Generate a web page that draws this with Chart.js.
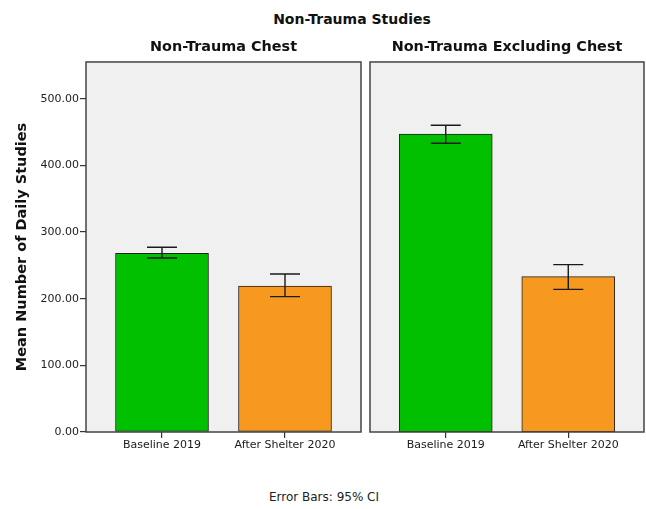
<!DOCTYPE html>
<html>
<head>
<meta charset="utf-8">
<title>Non-Trauma Studies</title>
<script src="https://cdn.jsdelivr.net/npm/chart.js@4.4.1/dist/chart.umd.min.js"></script>
<style>
  body { margin: 0; background: #fff; font-family: "DejaVu Sans", sans-serif; }
  #wrap { position: relative; width: 646px; height: 509px; overflow: hidden; }
  #title { position: absolute; left: 252px; width: 200px; top: 11px; text-align: center;
           font-weight: bold; font-size: 14px; line-height: 16px; color: #111; white-space: nowrap; }
  #foot { position: absolute; left: 224px; width: 200px; top: 490px; text-align: center;
          font-size: 12px; line-height: 14px; color: #222; white-space: nowrap; }
  #c1 { position: absolute; left: 0; top: 0; }
  #c2 { position: absolute; left: 366px; top: 0; }
</style>
</head>
<body>
<div id="wrap">
  <div id="title">Non-Trauma Studies</div>
  <canvas id="c1" width="366" height="470"></canvas>
  <canvas id="c2" width="280" height="470"></canvas>
  <div id="foot">Error Bars: 95% CI</div>
</div>
<script>
const categories = ['Baseline 2019', 'After Shelter 2020'];
const barColors = ['#00c000', '#f7991e'];

// Non-Trauma Chest
const chestMean = [268, 219];
const chestLow = [261, 203];
const chestHigh = [277, 237];

// Non-Trauma Excluding Chest
const otherMean = [447, 233];
const otherLow = [433, 214];
const otherHigh = [460, 251];

const yMax = 555;
const yStep = 100;

Chart.defaults.font.family = 'DejaVu Sans';
Chart.defaults.color = '#222';

// grey panel background + frame
const panel = {
  id: 'panel',
  beforeDraw(chart) {
    const { ctx, chartArea: a } = chart;
    ctx.save();
    ctx.fillStyle = '#f0f0f0';
    ctx.fillRect(a.left, a.top, a.right - a.left, a.bottom - a.top);
    ctx.restore();
  },
  afterDraw(chart) {
    const { ctx, chartArea: a } = chart;
    ctx.save();
    ctx.strokeStyle = '#444';
    ctx.lineWidth = 1.5;
    ctx.strokeRect(a.left, a.top, a.right - a.left, a.bottom - a.top);
    ctx.restore();
  }
};

// 95% CI whiskers
const errorBars = {
  id: 'errorBars',
  afterDatasetsDraw(chart, args, opts) {
    const { ctx, scales: { x, y } } = chart;
    ctx.save();
    ctx.strokeStyle = '#1a1a1a';
    ctx.lineWidth = 1.4;
    opts.low.forEach((lo, i) => {
      const px = x.getPixelForValue(i);
      const top = y.getPixelForValue(opts.high[i]);
      const bot = y.getPixelForValue(lo);
      ctx.beginPath();
      ctx.moveTo(px, top); ctx.lineTo(px, bot);
      ctx.moveTo(px - 15, top); ctx.lineTo(px + 15, top);
      ctx.moveTo(px - 15, bot); ctx.lineTo(px + 15, bot);
      ctx.stroke();
    });
    ctx.restore();
  }
};

function makePanel(id, title, means, low, high, showY, pad) {
  return new Chart(document.getElementById(id), {
    type: 'bar',
    data: {
      datasets: [{
        data: means.map((v, i) => ({ x: i, y: v })),
        backgroundColor: barColors,
        borderColor: '#222',
        borderWidth: 1,
        borderSkipped: false,
        barThickness: 93
      }]
    },
    plugins: [panel, errorBars],
    options: {
      responsive: false,
      animation: false,
      layout: { padding: pad },
      plugins: {
        legend: { display: false },
        tooltip: { enabled: false },
        title: {
          display: true,
          text: title,
          fullSize: false,
          color: '#111',
          font: { size: 14.4, weight: 'bold' },
          padding: { top: 0, bottom: 5.7 }
        },
        errorBars: { low: low, high: high }
      },
      scales: {
        x: {
          type: 'linear',
          offset: false,
          bounds: 'data',
          min: -0.618,
          max: 1.618,
          afterBuildTicks: s => { s.ticks = categories.map((c, i) => ({ value: i })); },
          afterFit: s => { s.height = 30; },
          grid: { offset: false, drawOnChartArea: false, drawTicks: true, tickLength: 6, color: '#333', lineWidth: 1.2 },
          border: { display: false },
          ticks: {
            callback: v => categories[v],
            includeBounds: false,
            maxRotation: 0, minRotation: 0, autoSkip: false,
            padding: 1,
            font: { size: 11 },
            color: '#1a1a1a'
          }
        },
        y: {
          display: showY,
          min: 0,
          max: yMax,
          afterFit: s => { if (showY) s.width = 86; },
          grid: { drawOnChartArea: false, drawTicks: true, tickLength: 6, color: '#333', lineWidth: 1.2 },
          border: { display: false },
          ticks: {
            stepSize: yStep,
            includeBounds: false,
            padding: 1,
            font: { size: 11 },
            color: '#222',
            callback: v => v.toFixed(2)
          },
          title: {
            display: true,
            text: 'Mean Number of Daily Studies',
            color: '#111',
            font: { size: 14.5, weight: 'bold' },
            padding: { top: 14, bottom: 0 }
          }
        }
      }
    }
  });
}

makePanel('c1', 'Non-Trauma Chest', chestMean, chestLow, chestHigh, true,
  { top: 39, left: 0, right: 5, bottom: 8 });
makePanel('c2', 'Non-Trauma Excluding Chest', otherMean, otherLow, otherHigh, false,
  { top: 39, left: 4, right: 2, bottom: 8 });
</script>
</body>
</html>
